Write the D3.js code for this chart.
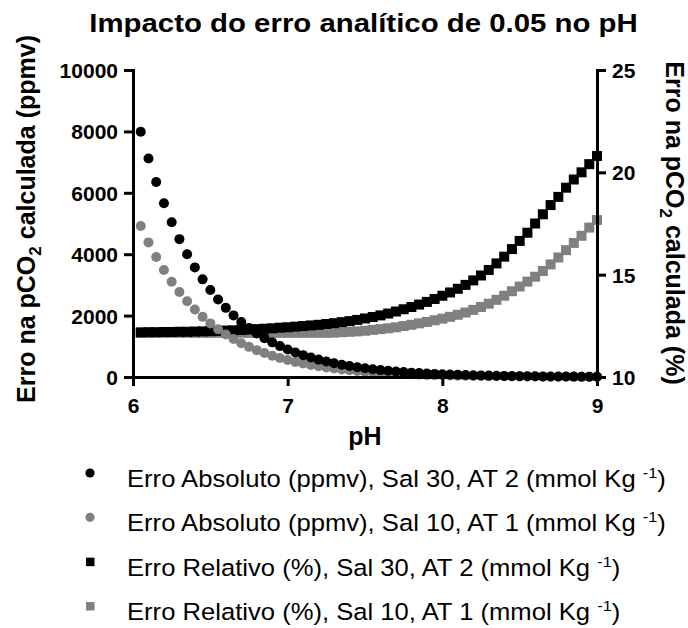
<!DOCTYPE html>
<html><head><meta charset="utf-8">
<script src="https://cdn.jsdelivr.net/npm/d3@7/dist/d3.min.js"></script>
<style>body{margin:0;background:#fff}svg{display:block}</style>
</head><body><svg id="c" width="688" height="628"></svg>
<script>
// ---- data ----
const pH = [6.05,6.10,6.15,6.20,6.25,6.30,6.35,6.40,6.45,6.50,6.55,6.60,6.65,6.70,6.75,6.80,6.85,6.90,6.95,7.00,
            7.05,7.10,7.15,7.20,7.25,7.30,7.35,7.40,7.45,7.50,7.55,7.60,7.65,7.70,7.75,7.80,7.85,7.90,7.95,8.00,
            8.05,8.10,8.15,8.20,8.25,8.30,8.35,8.40,8.45,8.50,8.55,8.60,8.65,8.70,8.75,8.80,8.85,8.90,8.95,9.00];
// Erro absoluto (ppmv), Sal 30, AT 2
const absSal30 = [7990,7120,6350,5660,5040,4490,4000,3570,3180,2835,2527,2252,2007,1789,1594,1421,1266,1128,1006,896,
                  799,712,635,566,504,449,400,357,318,283,253,225,201,179,159,142,127,113,101,90,
                  80,71,63,57,50,45,40,36,32,28,25,23,20,18,16,14,13,11,10,9];
// Erro absoluto (ppmv), Sal 10, AT 1
const absSal10 = [4920,4385,3908,3483,3104,2767,2466,2198,1959,1746,1556,1387,1236,1101,982,875,780,695,619,552,
                  492,438,391,348,310,277,247,220,196,175,156,139,124,110,98,87,78,69,62,55,
                  49,44,39,35,31,28,25,22,20,17,16,14,12,11,10,9,8,7,6,6];
// Erro relativo (%), Sal 30, AT 2
const relSal30 = [12.18,12.19,12.19,12.20,12.20,12.21,12.21,12.22,12.23,12.24,12.25,12.27,12.28,12.30,12.32,12.34,12.36,12.38,12.41,12.43,
                  12.46,12.49,12.52,12.55,12.59,12.63,12.68,12.73,12.79,12.86,12.93,13.01,13.10,13.20,13.31,13.42,13.54,13.67,13.81,13.97,
                  14.13,14.31,14.50,14.72,14.96,15.23,15.55,15.88,16.25,16.65,17.05,17.50,17.95,18.40,18.80,19.25,19.65,20.00,20.40,20.80];
// Erro relativo (%), Sal 10, AT 1
const relSal10 = [12.16,12.16,12.16,12.16,12.16,12.16,12.16,12.16,12.16,12.16,12.16,12.16,12.16,12.16,12.16,12.16,12.16,12.16,12.16,12.16,
                  12.16,12.16,12.16,12.16,12.16,12.17,12.19,12.21,12.23,12.26,12.30,12.34,12.38,12.43,12.49,12.55,12.62,12.69,12.77,12.85,
                  12.94,13.04,13.15,13.28,13.42,13.58,13.77,13.97,14.19,14.42,14.66,14.90,15.18,15.50,15.84,16.20,16.55,16.90,17.30,17.67];
const xTicks = [6,7,8,9];
const yLeftTicks = [0,2000,4000,6000,8000,10000];
const yRightTicks = [10,15,20,25];
const legendLabels = [
  "Erro Absoluto (ppmv), Sal 30, AT 2 (mmol Kg ",
  "Erro Absoluto (ppmv), Sal 10, AT 1 (mmol Kg ",
  "Erro Relativo (%), Sal 30, AT 2 (mmol Kg ",
  "Erro Relativo (%), Sal 10, AT 1 (mmol Kg "
];
const titleText = "Impacto do erro analítico de 0.05 no pH";

// ---- layout ----
const BLACK = "#000000", GRAY = "#808080";
const svg = d3.select("#c");
const F = "'Liberation Sans', Arial, sans-serif";
const x = d3.scaleLinear().domain([6,9]).range([133,597]);
const yL = d3.scaleLinear().domain([0,10000]).range([377,70]);
const yR = d3.scaleLinear().domain([10,25]).range([377,70]);

const R = 5, S = 10;
// series: draw order so black circles on top
const series = [
  {vals: relSal10, y: yR, shape: "square", color: GRAY},
  {vals: relSal30, y: yR, shape: "square", color: BLACK},
  {vals: absSal10, y: yL, shape: "circle", color: GRAY},
  {vals: absSal30, y: yL, shape: "circle", color: BLACK}
];
const plot = svg.append("g");
series.forEach(s => {
  const g = plot.append("g").attr("fill", s.color);
  const data = pH.map((p,i) => [p, s.vals[i]]);
  if (s.shape === "circle") {
    g.selectAll("circle").data(data).join("circle")
      .attr("cx", d => x(d[0])).attr("cy", d => s.y(d[1])).attr("r", R);
  } else {
    g.selectAll("rect").data(data).join("rect")
      .attr("x", d => x(d[0]) - S/2).attr("y", d => s.y(d[1]) - S/2)
      .attr("width", S).attr("height", S);
  }
});

// axes
function styleAxis(g) {
  g.selectAll("path.domain").attr("stroke", BLACK).attr("stroke-width", 3).attr("stroke-linecap", "square");
  g.selectAll(".tick line").attr("stroke", BLACK).attr("stroke-width", 3);
  g.selectAll(".tick text").attr("font-family", F).attr("font-weight", "bold")
    .attr("font-size", 21).attr("fill", BLACK);
}
const gx = svg.append("g").attr("transform", "translate(0,377)")
  .call(d3.axisBottom(x).tickValues(xTicks).tickFormat(d3.format("d")).tickSize(9).tickSizeOuter(0).tickPadding(12));
styleAxis(gx);
const gl = svg.append("g").attr("transform", "translate(133,0)")
  .call(d3.axisLeft(yL).tickValues(yLeftTicks).tickFormat(d3.format("d")).tickSize(9).tickSizeOuter(0).tickPadding(6));
styleAxis(gl);
gl.selectAll(".tick text").attr("dy", "0.36em");
const gr = svg.append("g").attr("transform", "translate(597,0)")
  .call(d3.axisRight(yR).tickValues(yRightTicks).tickFormat(d3.format("d")).tickSize(9).tickSizeOuter(0).tickPadding(6));
styleAxis(gr);
gr.selectAll(".tick text").attr("dy", "0.36em");
[gx, gl, gr].forEach(g => g.attr("font-size", null).attr("font-family", null));

// title
svg.append("text").attr("transform", "translate(363.5,32) scale(1.13,1)")
  .attr("text-anchor", "middle").attr("font-family", F).attr("font-weight", "bold")
  .attr("font-size", 26).attr("fill", BLACK).text(titleText);

// x axis title
svg.append("text").attr("x", 365).attr("y", 445).attr("text-anchor", "middle")
  .attr("font-family", F).attr("font-weight", "bold").attr("font-size", 25).text("pH");

// y axis titles with subscript
function axisTitle(tr, tail) {
  const t = svg.append("text").attr("transform", tr).attr("text-anchor", "middle")
    .attr("font-family", F).attr("font-weight", "bold").attr("font-size", 25).attr("fill", BLACK);
  t.append("tspan").text("Erro na pCO");
  t.append("tspan").attr("font-size", 17).attr("dy", 6).text("2");
  t.append("tspan").attr("dy", -6).text(" calculada " + tail);
}
axisTitle("translate(35,219) rotate(-90)", "(ppmv)");
axisTitle("translate(666,223) rotate(90)", "(%)");

// legend
const legendSym = [
  {shape: "circle", color: BLACK}, {shape: "circle", color: GRAY},
  {shape: "square", color: BLACK}, {shape: "square", color: GRAY}
];
const legY = d3.scaleLinear().domain([0,3]).range([487,620]);
legendLabels.forEach((lab, i) => {
  const by = legY(i);
  const s = legendSym[i];
  if (s.shape === "circle") {
    svg.append("circle").attr("cx", 90).attr("cy", by - 14).attr("r", 4.6).attr("fill", s.color);
  } else {
    svg.append("rect").attr("x", 86).attr("y", by - 18).attr("width", 8.5).attr("height", 8.5).attr("fill", s.color);
  }
  const t = svg.append("text").attr("transform", `translate(127,${by}) scale(1.09,1)`)
    .attr("font-family", F).attr("font-size", 23.5).attr("fill", BLACK);
  t.append("tspan").text(lab);
  t.append("tspan").attr("font-size", 15).attr("dy", -9).text("-1");
  t.append("tspan").attr("dy", 9).text(")");
});
</script>
</body></html>
